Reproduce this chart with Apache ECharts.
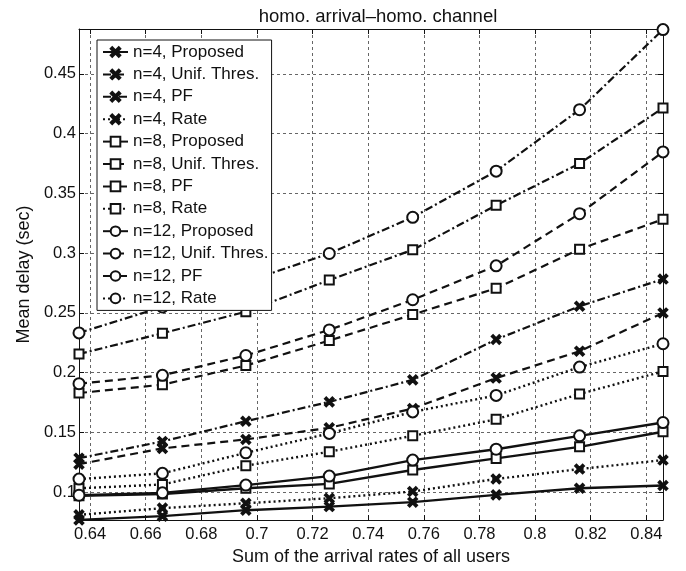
<!DOCTYPE html>
<html>
<head>
<meta charset="utf-8">
<script src="https://cdn.jsdelivr.net/npm/echarts@6/dist/echarts.min.js"></script>
<style>
  html, body { margin: 0; padding: 0; background: #fff; }
  #chart { width: 686px; height: 571px; }
</style>
</head>
<body>
<div id="chart"></div>
<script>
// sum of arrival rates (x positions of the points)
const xValues = [0.636, 0.666, 0.696, 0.726, 0.756, 0.786, 0.816, 0.846]
const xTicks = [0.64, 0.66, 0.68, 0.70, 0.72, 0.74, 0.76, 0.78, 0.80, 0.82, 0.84]
const yTicks = [0.10, 0.15, 0.20, 0.25, 0.30, 0.35, 0.40, 0.45]

// mean delay (sec)
const n4Proposed = [0.0769, 0.0800, 0.0850, 0.0880, 0.0917, 0.0978, 0.1033, 0.1056]
const n4Unif     = [0.1235, 0.1367, 0.1442, 0.1539, 0.1700, 0.1955, 0.2180, 0.2500]
const n4PF       = [0.1285, 0.1425, 0.1594, 0.1756, 0.1940, 0.2278, 0.2556, 0.2783]
const n4Rate     = [0.0811, 0.0867, 0.0908, 0.0950, 0.1006, 0.1111, 0.1194, 0.1269]
const n8Proposed = [0.0970, 0.0985, 0.1033, 0.1070, 0.1186, 0.1283, 0.1380, 0.1506]
const n8Unif     = [0.1830, 0.1900, 0.2060, 0.2269, 0.2486, 0.2706, 0.3033, 0.3283]
const n8PF       = [0.2156, 0.2330, 0.2510, 0.2775, 0.3028, 0.3400, 0.3750, 0.4214]
const n8Rate     = [0.1033, 0.1065, 0.1222, 0.1339, 0.1472, 0.1610, 0.1822, 0.2011]
const n12Proposed = [0.0975, 0.0995, 0.1060, 0.1135, 0.1269, 0.1360, 0.1472, 0.1583]
const n12Unif     = [0.1908, 0.1978, 0.2144, 0.2358, 0.2610, 0.2894, 0.3330, 0.3847]
const n12PF       = [0.2333, 0.2550, 0.2760, 0.2997, 0.3300, 0.3686, 0.4200, 0.4870]
const n12Rate     = [0.1110, 0.1158, 0.1330, 0.1492, 0.1672, 0.1810, 0.2047, 0.2242]

const INK = '#111'
const FONT = '"Liberation Sans", Arial, sans-serif'

// x-shaped marker as a filled outline
const crossPath = 'path://M0,1.6L1.6,0L5,3.4L8.4,0L10,1.6L6.6,5L10,8.4L8.4,10L5,6.6L1.6,10L0,8.4L3.4,5Z'

const lineTypes = {
  'Proposed': { type: 'solid', width: 2.4 },
  'Unif. Thres.': { type: [8, 5], width: 2.2 },
  'PF': { type: [8, 3, 2, 3], width: 2.2 },
  'Rate': { type: [2, 3], width: 2.4 }
}
const markers = {
  4: { symbol: crossPath, size: 9 },
  8: { symbol: 'emptyRect', size: 9 },
  12: { symbol: 'emptyCircle', size: 11 }
}

const makeSeries = (n, method, values) => ({
  name: 'n=' + n + ', ' + method,
  type: 'line',
  data: xValues.map((x, i) => [x, values[i]]),
  symbol: markers[n].symbol,
  symbolSize: markers[n].size,
  showAllSymbol: true,
  lineStyle: { color: INK, width: lineTypes[method].width, type: lineTypes[method].type },
  itemStyle: { color: INK, borderColor: INK, borderWidth: 1.8 },
  emphasis: { disabled: true },
  z: 3
})

const series = [
  makeSeries(4, 'Proposed', n4Proposed),
  makeSeries(4, 'Unif. Thres.', n4Unif),
  makeSeries(4, 'PF', n4PF),
  makeSeries(4, 'Rate', n4Rate),
  makeSeries(8, 'Proposed', n8Proposed),
  makeSeries(8, 'Unif. Thres.', n8Unif),
  makeSeries(8, 'PF', n8PF),
  makeSeries(8, 'Rate', n8Rate),
  makeSeries(12, 'Proposed', n12Proposed),
  makeSeries(12, 'Unif. Thres.', n12Unif),
  makeSeries(12, 'PF', n12PF),
  makeSeries(12, 'Rate', n12Rate)
]

const fmt = v => String(+(+v).toFixed(2))
const gridLine = { show: true, lineStyle: { color: '#666', width: 1, type: [3, 3] } }

const option = {
  animation: false,
  backgroundColor: '#fff',
  title: {
    text: 'homo. arrival\u2013homo. channel',
    left: 373,
    textAlign: 'center',
    top: 2,
    textStyle: { color: INK, fontSize: 18.5, fontWeight: 'normal', fontFamily: FONT }
  },
  grid: { left: 79, right: 23, top: 29, bottom: 49 },
  legend: {
    orient: 'vertical',
    left: 97,
    top: 40,
    padding: [3.5, 3, 3.5, 5],
    itemWidth: 25,
    itemHeight: 12,
    itemGap: 5.4,
    backgroundColor: '#fff',
    borderColor: INK,
    borderWidth: 1,
    textStyle: { color: INK, fontSize: 17, lineHeight: 17, fontFamily: FONT },
    data: series.map(s => s.name),
    z: 10
  },
  xAxis: [{
    type: 'value',
    min: 0.636,
    max: 0.846,
    name: 'Sum of the arrival rates of all users',
    nameLocation: 'middle',
    nameGap: 27,
    nameTextStyle: { color: INK, fontSize: 18, fontFamily: FONT },
    axisLine: { show: true, lineStyle: { color: INK, width: 1 } },
    axisTick: { show: true, inside: true, length: 5, customValues: xTicks, lineStyle: { color: INK } },
    axisLabel: { customValues: xTicks, formatter: fmt, color: INK, fontSize: 16.5, fontFamily: FONT, margin: 6 },
    splitLine: gridLine
  }, {
    type: 'value',
    position: 'top',
    min: 0.636,
    max: 0.846,
    axisLine: { show: true, onZero: false, lineStyle: { color: INK, width: 1 } },
    axisTick: { show: true, inside: true, length: 5, customValues: xTicks, lineStyle: { color: INK } },
    axisLabel: { show: false },
    splitLine: { show: false }
  }],
  yAxis: [{
    type: 'value',
    min: 0.0767,
    max: 0.4875,
    name: 'Mean delay (sec)',
    nameLocation: 'middle',
    nameGap: 45,
    nameTextStyle: { color: INK, fontSize: 18, fontFamily: FONT },
    axisLine: { show: true, onZero: false, lineStyle: { color: INK, width: 1 } },
    axisTick: { show: true, inside: true, length: 5, customValues: yTicks, lineStyle: { color: INK } },
    axisLabel: { customValues: yTicks, formatter: fmt, color: INK, fontSize: 16.5, fontFamily: FONT, margin: 3 },
    splitLine: gridLine
  }, {
    type: 'value',
    position: 'right',
    min: 0.0767,
    max: 0.4875,
    axisLine: { show: true, onZero: false, lineStyle: { color: INK, width: 1 } },
    axisTick: { show: true, inside: true, length: 5, customValues: yTicks, lineStyle: { color: INK } },
    axisLabel: { show: false },
    splitLine: { show: false }
  }],
  series: series
}

const chart = echarts.init(document.getElementById('chart'), null, { renderer: 'canvas' })
chart.setOption(option)
</script>
</body>
</html>
